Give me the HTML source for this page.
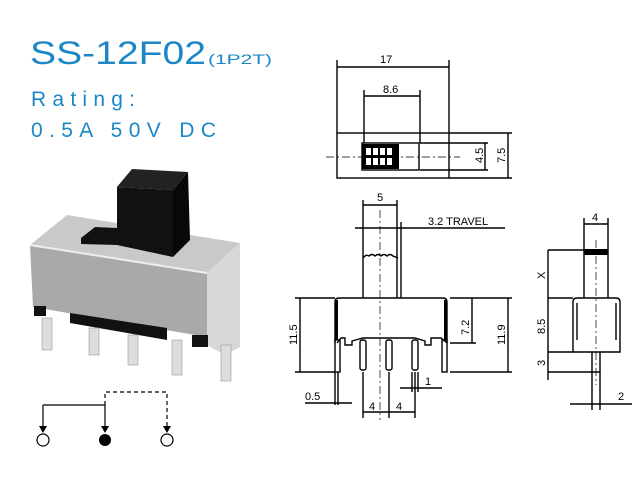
<!DOCTYPE html>
<html><head><style>
html,body{margin:0;padding:0;background:#fff;}
svg{display:block;}
.t{font-family:"Liberation Sans",sans-serif;fill:#1c87c4;}
.d{font-family:"Liberation Sans",sans-serif;fill:#000;font-size:11px;}
</style></head><body>
<svg width="640" height="500" viewBox="0 0 640 500" xmlns="http://www.w3.org/2000/svg">
<rect width="640" height="500" fill="#fff"/>
<!-- Title -->
<text class="t" x="30" y="64" font-size="32" textLength="176" lengthAdjust="spacingAndGlyphs">SS-12F02</text>
<text class="t" x="208" y="64" font-size="14" textLength="64" lengthAdjust="spacingAndGlyphs">(1P2T)</text>
<text class="t" x="31" y="106" font-size="21" textLength="104" lengthAdjust="spacing">Rating:</text>
<text class="t" x="31" y="137" font-size="21" textLength="185" lengthAdjust="spacing">0.5A 50V DC</text>

<!-- Photo -->
<g>
<polygon points="67,215 30,245 207,273 240,243" fill="#c9c9c9"/>
<polygon points="30,245 207,273 207,337 33,307" fill="#a9a9a9"/>
<polygon points="207,273 240,243 240,347 225,355 207,345" fill="#d8d8d8"/>
<line x1="30" y1="245" x2="207" y2="273" stroke="#eee" stroke-width="2"/>
<polygon points="81,238 95,227 117,228 117,245 81,244" fill="#111"/>
<polygon points="117,187 173,190 173,257 117,245" fill="#111"/>
<polygon points="117,187 132,169 188,172 173,190" fill="#222"/>
<polygon points="173,190 188,172 190,240 173,257" fill="#080808"/>
<polygon points="70,313 167,328 167,340 70,323" fill="#111"/>
<rect x="34" y="306" width="12" height="10" fill="#111"/>
<rect x="192" y="335" width="16" height="12" fill="#111"/>
<rect x="42" y="318" width="10" height="32" fill="#ddd" stroke="#999" stroke-width="0.6"/>
<rect x="89" y="328" width="10" height="27" fill="#ddd" stroke="#999" stroke-width="0.6"/>
<rect x="128" y="335" width="10" height="30" fill="#ddd" stroke="#999" stroke-width="0.6"/>
<rect x="172" y="340" width="10" height="35" fill="#ddd" stroke="#999" stroke-width="0.6"/>
<rect x="221" y="345" width="10" height="36" fill="#ddd" stroke="#999" stroke-width="0.6"/>
</g>

<!-- Schematic -->
<g stroke="#000" stroke-width="1.2" fill="none">
<polyline points="43,405 105,405 105,428"/>
<line x1="43" y1="405" x2="43" y2="428"/>
<polyline points="105,405 105,392 167,392 167,428" stroke-dasharray="4,3"/>
</g>
<g fill="#000">
<polygon points="39,426 47,426 43,433"/>
<polygon points="101,426 109,426 105,433"/>
<polygon points="163,426 171,426 167,433"/>
</g>
<circle cx="43" cy="440" r="6" fill="#fff" stroke="#000" stroke-width="1.2"/>
<circle cx="105" cy="440" r="6" fill="#000"/>
<circle cx="167" cy="440" r="6" fill="#fff" stroke="#000" stroke-width="1.2"/>

<!-- Drawing lines -->
<g stroke="#000" stroke-width="1.4" fill="none">
<rect x="337" y="133" width="112" height="45"/>
<rect x="362" y="143" width="57" height="27"/>
<line x1="337" y1="60" x2="337" y2="133"/><line x1="449" y1="60" x2="449" y2="133"/>
<line x1="337" y1="67" x2="449" y2="67"/>
<line x1="364" y1="90" x2="364" y2="143"/><line x1="420" y1="90" x2="420" y2="143"/>
<line x1="364" y1="96" x2="420" y2="96"/>
<line x1="420" y1="143" x2="488" y2="143"/><line x1="420" y1="170" x2="488" y2="170"/>
<line x1="449" y1="133" x2="512" y2="133"/><line x1="449" y1="178" x2="512" y2="178"/>
<line x1="485" y1="143" x2="485" y2="170"/><line x1="508" y1="133" x2="508" y2="178"/>
<line x1="326" y1="157" x2="460" y2="157" stroke-dasharray="8,3,2,3" stroke-width="0.8"/>

<line x1="363" y1="200" x2="363" y2="298"/><line x1="397" y1="200" x2="397" y2="298"/>
<line x1="363" y1="205" x2="397" y2="205"/>
<line x1="355" y1="228" x2="505" y2="228"/>
<line x1="401" y1="222" x2="401" y2="298"/>
<path d="M363,258 q3,-4 6,-2 q3,-3 6,0 q3,-3 6,0 q3,-3 6,0 q3,-3 6,0 l5,2"/>
<path d="M335,343 L335,302 Q335,298 339,298 L443,298 Q447,298 447,302 L447,343"/>
<line x1="380" y1="210" x2="380" y2="420" stroke-dasharray="8,3,2,3" stroke-width="0.7"/>
<path d="M337,343 L341,338 L345,338 L345,345 L352,345 L352,341 L363,338 L415,338 L425,341 L425,345 L431,345 L431,338 L441,338 L447,343"/>
<rect x="335" y="340" width="5" height="32"/><rect x="442" y="340" width="5" height="32"/>
<rect x="360" y="340" width="6" height="30" rx="2"/><rect x="386" y="340" width="6" height="30" rx="2"/><rect x="412" y="340" width="6" height="30" rx="2"/>
<line x1="295" y1="298" x2="335" y2="298"/><line x1="295" y1="372" x2="335" y2="372"/>
<line x1="300" y1="298" x2="300" y2="372"/>
<line x1="450" y1="298" x2="512" y2="298"/><line x1="450" y1="343" x2="476" y2="343"/><line x1="450" y1="372" x2="512" y2="372"/>
<line x1="472" y1="298" x2="472" y2="343"/><line x1="508" y1="298" x2="508" y2="372"/>
<line x1="338" y1="372" x2="338" y2="405"/><line x1="335" y1="372" x2="335" y2="405"/>
<line x1="305" y1="403" x2="352" y2="403"/>
<line x1="363" y1="372" x2="363" y2="418"/><line x1="389" y1="372" x2="389" y2="418"/><line x1="415" y1="372" x2="415" y2="418"/>
<line x1="363" y1="412" x2="415" y2="412"/>
<line x1="412" y1="372" x2="412" y2="392"/><line x1="418" y1="372" x2="418" y2="392"/>
<line x1="400" y1="388" x2="442" y2="388"/>

<line x1="584" y1="218" x2="584" y2="298"/><line x1="608" y1="218" x2="608" y2="298"/>
<line x1="584" y1="224" x2="608" y2="224"/>
<path d="M573,352 L573,302 Q573,298 577,298 L616,298 Q620,298 620,302 L620,352 Z"/>
<line x1="577" y1="303" x2="577" y2="340"/><line x1="616" y1="303" x2="616" y2="340"/>
<path d="M592,352 L592,372 L600,372 L600,352"/>
<line x1="596" y1="240" x2="596" y2="385" stroke-dasharray="8,3,2,3" stroke-width="0.7"/>
<line x1="548" y1="250" x2="584" y2="250"/><line x1="548" y1="298" x2="573" y2="298"/>
<line x1="548" y1="352" x2="573" y2="352"/><line x1="548" y1="372" x2="592" y2="372"/>
<line x1="548" y1="250" x2="548" y2="380"/>
<line x1="592" y1="372" x2="592" y2="410"/><line x1="600" y1="372" x2="600" y2="410"/>
<line x1="570" y1="404" x2="632" y2="404"/>
</g>
<rect x="362" y="144" width="37" height="25" fill="#000"/>
<g fill="#fff">
<rect x="366" y="148" width="5" height="7"/><rect x="373" y="148" width="5" height="7"/><rect x="380" y="148" width="5" height="7"/><rect x="387" y="148" width="5" height="7"/>
<rect x="366" y="158" width="5" height="7"/><rect x="373" y="158" width="5" height="7"/><rect x="380" y="158" width="5" height="7"/><rect x="387" y="158" width="5" height="7"/>
</g>
<rect x="335" y="300" width="3" height="40" fill="#000"/><rect x="444" y="300" width="3" height="40" fill="#000"/>
<rect x="584" y="249" width="24" height="6" fill="#000"/>

<text class="d" x="380" y="63" font-size="12">17</text>
<text class="d" x="383" y="93" font-size="9">8.6</text>
<text class="d" transform="translate(483,163) rotate(-90)">4.5</text>
<text class="d" transform="translate(505,163) rotate(-90)" font-size="12">7.5</text>
<text class="d" x="377" y="201" font-size="10">5</text>
<text class="d" x="428" y="225" font-size="10">3.2  TRAVEL</text>
<text class="d" transform="translate(297,345) rotate(-90)">11.5</text>
<text class="d" transform="translate(469,335) rotate(-90)">7.2</text>
<text class="d" transform="translate(505,345) rotate(-90)">11.9</text>
<text class="d" x="305" y="400" font-size="10">0.5</text>
<text class="d" x="425" y="385" font-size="10">1</text>
<text class="d" x="369" y="410" font-size="10">4</text>
<text class="d" x="396" y="410" font-size="10">4</text>
<text class="d" x="592" y="221" font-size="10">4</text>
<text class="d" transform="translate(545,279) rotate(-90)">X</text>
<text class="d" transform="translate(545,334) rotate(-90)">8.5</text>
<text class="d" transform="translate(545,366) rotate(-90)">3</text>
<text class="d" x="618" y="400" font-size="10">2</text>
</svg>
</body></html>
